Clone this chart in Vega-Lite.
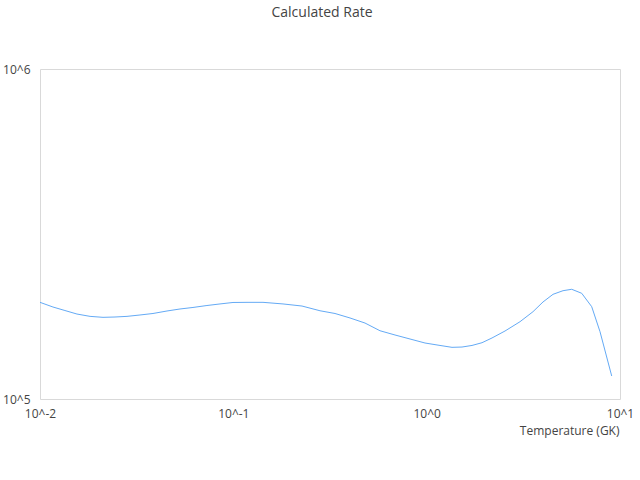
{
  "$schema": "https://vega.github.io/schema/vega-lite/v6.json",
  "width": 580,
  "height": 330,
  "autosize": {"type": "none"},
  "padding": {"left": 40, "top": 69, "right": 20, "bottom": 81},
  "background": "white",
  "title": {
    "text": "Calculated Rate",
    "anchor": "middle",
    "dx": -8,
    "offset": 43,
    "fontSize": 14,
    "fontWeight": "normal",
    "font": "Open Sans",
    "color": "#444"
  },
  "data": {
    "values": [
      {"T": 0.01, "rate": 196300},
      {"T": 0.01167, "rate": 190000},
      {"T": 0.01346, "rate": 185400},
      {"T": 0.01553, "rate": 180900},
      {"T": 0.01815, "rate": 178000},
      {"T": 0.02118, "rate": 176800},
      {"T": 0.02443, "rate": 177200},
      {"T": 0.02818, "rate": 178000},
      {"T": 0.03289, "rate": 179700},
      {"T": 0.03841, "rate": 181600},
      {"T": 0.04539, "rate": 184800},
      {"T": 0.05298, "rate": 187400},
      {"T": 0.06184, "rate": 189400},
      {"T": 0.07305, "rate": 192000},
      {"T": 0.08531, "rate": 194100},
      {"T": 0.0996, "rate": 196100},
      {"T": 0.1191, "rate": 196300},
      {"T": 0.1424, "rate": 196300},
      {"T": 0.1807, "rate": 194100},
      {"T": 0.2266, "rate": 191300},
      {"T": 0.2807, "rate": 185100},
      {"T": 0.3356, "rate": 181600},
      {"T": 0.4014, "rate": 176000},
      {"T": 0.4797, "rate": 169900},
      {"T": 0.5736, "rate": 161000},
      {"T": 0.6859, "rate": 156300},
      {"T": 0.8199, "rate": 152000},
      {"T": 0.9804, "rate": 147800},
      {"T": 1.172, "rate": 145300},
      {"T": 1.352, "rate": 143400},
      {"T": 1.523, "rate": 143700},
      {"T": 1.716, "rate": 145300},
      {"T": 1.933, "rate": 148100},
      {"T": 2.178, "rate": 153100},
      {"T": 2.542, "rate": 160700},
      {"T": 3.04, "rate": 171500},
      {"T": 3.548, "rate": 183900},
      {"T": 3.997, "rate": 196800},
      {"T": 4.503, "rate": 207600},
      {"T": 5.073, "rate": 212900},
      {"T": 5.627, "rate": 215000},
      {"T": 6.338, "rate": 209100},
      {"T": 7.141, "rate": 190400},
      {"T": 7.883, "rate": 159900},
      {"T": 9.06, "rate": 117400}
    ]
  },
  "mark": {"type": "line", "color": "#64aaf5", "strokeWidth": 1},
  "encoding": {
    "x": {
      "field": "T",
      "type": "quantitative",
      "scale": {"type": "log", "domain": [0.01, 10], "nice": false},
      "axis": {
        "title": "Temperature (GK)",
        "values": [0.01, 0.1, 1, 10],
        "labelExpr": "'10^' + round(log(datum.value) / LN10)",
        "labelFlush": false,
        "labelPadding": 9,
        "titleAnchor": "end",
        "titleAlign": "right",
        "titleX": 579,
        "titleY": 26,
        "titleBaseline": "top"
      }
    },
    "y": {
      "field": "rate",
      "type": "quantitative",
      "scale": {"type": "log", "domain": [100000, 1000000], "nice": false},
      "axis": {
        "title": null,
        "values": [100000, 1000000],
        "labelExpr": "'10^' + round(log(datum.value) / LN10)",
        "labelPadding": 10
      }
    }
  },
  "config": {
    "view": {"stroke": "#d9d9d9", "strokeWidth": 1},
    "axis": {
      "grid": false,
      "ticks": false,
      "domain": false,
      "labelFont": "Open Sans",
      "labelFontSize": 12,
      "labelColor": "#444",
      "titleFont": "Open Sans",
      "titleFontSize": 12,
      "titleFontWeight": "normal",
      "titleColor": "#444"
    }
  }
}
